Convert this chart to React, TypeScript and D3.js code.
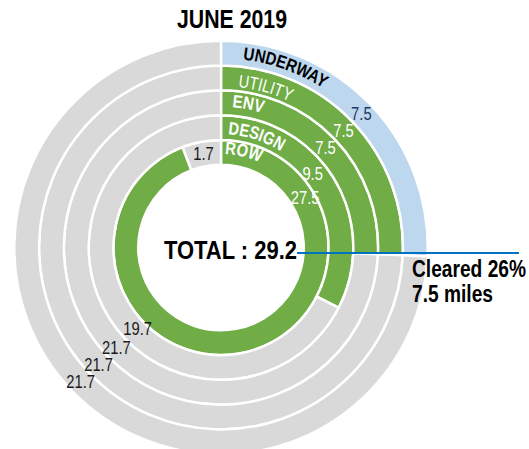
import React from "react";
import * as d3 from "d3";

// ---- data ----
const categories = ["ROW", "DESIGN", "ENV", "UTILITY", "UNDERWAY"];
const doneValues = [27.5, 9.5, 7.5, 7.5, 7.5];
const remainingValues = [1.7, 19.7, 21.7, 21.7, 21.7];
const titleText = "JUNE 2019";
const totalMiles = 29.2;
const clearedPct = 26;
const clearedMiles = 7.5;

// ---- layout / style ----
const W = 529;
const H = 449;
const cx = 221;
const cy = 247.5;
const r0 = 82.75;
const step = 24.8;
const FONT = "'Liberation Sans', Arial, sans-serif";
const NARROW = 0.82; // horizontal squeeze to mimic a narrow typeface
const GREEN = "#70ad47";
const BLUE = "#bdd7ee";
const GRAY = "#d9d9d9";
const doneColors = [GREEN, GREEN, GREEN, GREEN, BLUE];
const doneLabelColors = ["#ffffff", "#ffffff", "#ffffff", "#ffffff", "#1f3864"];
const catLabelColors = ["#ffffff", "#ffffff", "#ffffff", "#ffffff", "#000000"];
const catLabelWeights = ["bold", "bold", "bold", "normal", "bold"];
const catBaselineOffset = [9.5, 4.5, 7, 3, 6];
const catStartOffset = [4, 7, 11, 17, 22];
const catTextLength = [36, 56, 31, 54, 86];
// label angle overrides (degrees) where the chart moved a label off the slice middle
const doneLabelAngle: (number | null)[] = [59, 51, null, null, null];
const doneLabelRadiusOffset = [3, -2, 0, 0, 0];
const remLabelAngle: (number | null)[] = [null, 226, null, null, null];
const remLabelRadiusOffset = [1, -4, 0, 0, 0];

const toRad = (deg: number) => (deg * Math.PI) / 180;

function NarrowText(props: {
  x: number;
  y: number;
  size: number;
  fill: string;
  weight?: string;
  anchor?: "start" | "middle" | "end";
  baseline?: string;
  children: React.ReactNode;
}) {
  return (
    <text
      transform={`translate(${props.x},${props.y}) scale(${NARROW},1)`}
      fontSize={props.size}
      fill={props.fill}
      fontWeight={props.weight || "normal"}
      textAnchor={props.anchor || "start"}
      dominantBaseline={props.baseline || "auto"}
    >
      {props.children}
    </text>
  );
}

export default function App() {
  const pie = d3
    .pie<number>()
    .sort(null)
    .value((d) => d);

  const rings = categories.map((cat, i) => {
    const inner = r0 + step * i;
    const outer = inner + step;
    const slices = pie([doneValues[i], remainingValues[i]]);
    const arc = d3.arc<d3.PieArcDatum<number>>().innerRadius(inner).outerRadius(outer);
    const mid = (inner + outer) / 2;
    const labelPos = (s: d3.PieArcDatum<number>, overrideDeg: number | null, dr: number) => {
      const a = overrideDeg !== null ? toRad(overrideDeg) : (s.startAngle + s.endAngle) / 2;
      const r = mid + dr;
      return [Math.sin(a) * r, -Math.cos(a) * r];
    };
    const baseR = inner + 1.25 + catBaselineOffset[i];
    const textArc = d3.path();
    textArc.arc(0, 0, baseR, -Math.PI / 2, Math.PI * 1.2, false);
    return {
      cat,
      i,
      slices,
      arc,
      donePos: labelPos(slices[0], doneLabelAngle[i], doneLabelRadiusOffset[i]),
      remPos: labelPos(slices[1], remLabelAngle[i], remLabelRadiusOffset[i]),
      textPath: textArc.toString(),
    };
  });

  return (
    <svg
      width={W}
      height={H}
      viewBox={`0 0 ${W} ${H}`}
      style={{ position: "absolute", left: 0, top: 0, background: "#fff" }}
      fontFamily={FONT}
    >
      <text
        x={232}
        y={28}
        textAnchor="middle"
        fontSize={25}
        fontWeight="bold"
        fill="#000"
        textLength={110}
        lengthAdjust="spacingAndGlyphs"
      >
        {titleText}
      </text>
      <g transform={`translate(${cx},${cy})`}>
        <defs>
          {rings.map((r) => (
            <path key={r.cat} id={`tp-${r.i}`} d={r.textPath} fill="none" />
          ))}
        </defs>
        {rings.map((r) => (
          <g key={r.cat}>
            {r.slices.map((s, j) => (
              <path
                key={j}
                d={r.arc(s) || ""}
                fill={j === 0 ? doneColors[r.i] : GRAY}
                stroke="#fff"
                strokeWidth={2.5}
              />
            ))}
          </g>
        ))}
        {rings.map((r) => (
          <g key={`l-${r.cat}`}>
            <text fontSize={18} fontWeight={catLabelWeights[r.i]} fill={catLabelColors[r.i]}>
              <textPath
                href={`#tp-${r.i}`}
                startOffset={catStartOffset[r.i]}
                textLength={catTextLength[r.i]}
                lengthAdjust="spacingAndGlyphs"
              >
                {r.cat}
              </textPath>
            </text>
            <NarrowText
              x={r.donePos[0]}
              y={r.donePos[1]}
              size={18}
              anchor="middle"
              baseline="central"
              fill={doneLabelColors[r.i]}
            >
              {doneValues[r.i]}
            </NarrowText>
            <NarrowText
              x={r.remPos[0]}
              y={r.remPos[1]}
              size={18}
              anchor="middle"
              baseline="central"
              fill="#1a1a1a"
            >
              {remainingValues[r.i]}
            </NarrowText>
          </g>
        ))}
      </g>
      <text
        x={164}
        y={259}
        fontSize={26}
        fontWeight="bold"
        fill="#000"
        textLength={133}
        lengthAdjust="spacingAndGlyphs"
      >
        {`TOTAL : ${totalMiles}`}
      </text>
      <line x1={297} x2={519} y1={253} y2={253} stroke="#0070c0" strokeWidth={2} />
      <text
        x={412}
        y={277}
        fontSize={23}
        fontWeight="bold"
        fill="#000"
        textLength={114}
        lengthAdjust="spacingAndGlyphs"
      >
        {`Cleared ${clearedPct}%`}
      </text>
      <text
        x={412}
        y={302}
        fontSize={23}
        fontWeight="bold"
        fill="#000"
        textLength={81}
        lengthAdjust="spacingAndGlyphs"
      >
        {`${clearedMiles} miles`}
      </text>
    </svg>
  );
}
